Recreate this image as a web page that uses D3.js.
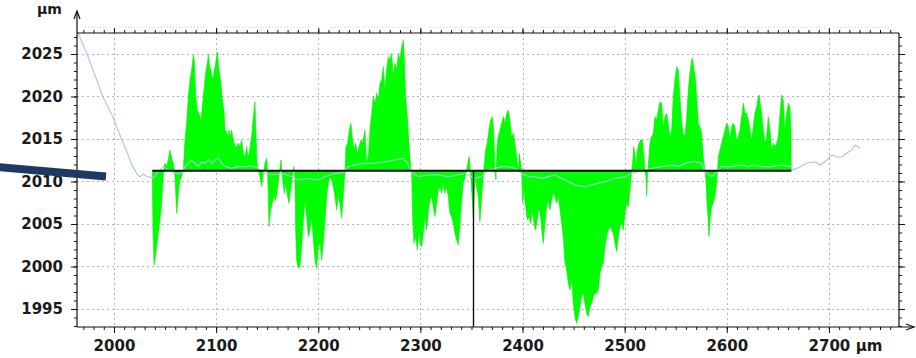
<!DOCTYPE html>
<html>
<head>
<meta charset="utf-8">
<script src="https://cdn.jsdelivr.net/npm/d3@7"></script>
<style>
  html, body { margin: 0; padding: 0; background: #fff; }
  svg { display: block; }
  text { font-family: "DejaVu Sans", Verdana, sans-serif; font-weight: bold; fill: #1a1a1a; }
</style>
</head>
<body>
<svg id="chart" width="916" height="358"></svg>
<script>
// Surface profile (position µm, height µm), filled against the reference level
const profile = [
  [2037.5,2011.25],[2038.2,2004.3],[2039.2,2000.18],[2040.1,2000.76],[2041.8,2002.33],[2043.4,2003.9],[2045.0,2005.47],[2046.7,2007.43],[2047.6,2009.39],[2048.6,2011.35],[2049.9,2012.14],[2051.6,2011.75],[2053.2,2012.53],[2054.8,2013.71],[2056.5,2012.73],[2058.1,2012.14],[2059.7,2010.57],[2061.4,2006.25],[2063.0,2008.61],[2064.6,2010.18],[2066.2,2010.57],[2067.9,2011.35],[2069.5,2014.88],[2071.1,2016.84],[2072.8,2019.98],[2074.4,2021.94],[2076.0,2023.12],[2077.7,2024.88],[2078.6,2024.29],[2080.0,2019.98],[2081.6,2018.41],[2083.2,2018.02],[2085.2,2017.24],[2086.5,2018.8],[2088.1,2020.76],[2089.7,2022.73],[2091.4,2023.9],[2092.4,2025.0],[2093.7,2023.51],[2095.0,2023.12],[2096.3,2021.94],[2097.9,2022.73],[2099.5,2023.9],[2101.2,2025.27],[2102.8,2023.12],[2104.8,2021.55],[2106.1,2019.59],[2107.7,2018.41],[2108.7,2016.06],[2110.3,2015.86],[2111.3,2015.27],[2112.6,2016.06],[2113.9,2015.27],[2115.2,2016.06],[2116.8,2014.88],[2118.5,2014.1],[2120.1,2014.1],[2121.7,2014.49],[2123.4,2014.1],[2125.0,2014.88],[2126.6,2013.31],[2128.3,2012.92],[2129.9,2014.1],[2131.5,2012.73],[2133.2,2014.1],[2134.8,2015.27],[2136.4,2017.63],[2138.0,2019.39],
  [2139.0,2016.06],[2140.0,2012.14],[2141.3,2011.35],[2142.9,2010.57],[2144.6,2009.39],[2146.2,2010.96],[2147.8,2012.14],[2149.5,2012.73],[2150.5,2010.96],[2151.8,2004.69],[2153.4,2006.65],[2155.0,2007.43],[2156.6,2008.22],[2158.3,2007.82],[2159.9,2009.0],[2161.5,2010.57],[2163.5,2012.53],[2164.8,2010.57],[2166.8,2008.61],[2168.1,2009.78],[2170.0,2008.22],[2171.3,2007.43],[2173.0,2009.0],[2174.6,2010.57],[2176.2,2011.75],[2177.2,2010.18],[2177.9,2004.29],[2178.8,2000.76],[2180.5,1999.78],[2182.1,1999.98],[2183.7,2002.33],[2185.4,2005.47],[2187.0,2007.82],[2188.6,2005.86],[2190.3,2003.51],[2191.9,2004.29],[2193.5,2005.86],[2195.2,2003.12],[2196.8,2000.76],[2198.4,1999.78],[2200.1,2002.33],[2201.7,2002.73],[2203.3,2000.76],[2204.9,2002.73],[2206.6,2005.47],[2208.2,2008.22],[2209.8,2009.78],[2211.5,2010.57],[2213.1,2010.18],[2214.7,2009.39],[2216.4,2008.22],[2218.0,2006.65],[2219.6,2008.22],[2221.3,2007.43],[2222.9,2005.67],[2224.5,2008.22],[2226.2,2011.25],[2227.1,2014.1],[2228.8,2014.49],[2230.4,2016.06],[2232.0,2016.84],[2233.3,2015.27],[2234.9,2013.71],[2236.6,2014.49],[2238.2,2013.31],[2239.9,2014.1],[2241.8,2014.88],[2243.5,2014.49],[2245.7,2016.06],
  [2247.4,2012.14],[2249.0,2012.92],[2250.6,2016.06],[2252.3,2018.02],[2253.9,2019.98],[2255.5,2019.2],[2257.2,2020.37],[2258.8,2019.59],[2260.4,2021.55],[2262.1,2021.94],[2263.7,2023.51],[2265.3,2020.76],[2266.9,2023.12],[2268.6,2024.69],[2270.2,2024.29],[2271.8,2025.08],[2273.5,2022.33],[2275.1,2023.9],[2276.7,2023.12],[2278.4,2025.08],[2280.0,2024.29],[2281.6,2025.86],[2283.3,2026.65],[2284.3,2024.29],[2285.6,2019.98],[2287.2,2017.63],[2288.8,2014.49],[2290.5,2011.75],[2291.4,2011.25],[2292.4,2005.86],[2293.7,2002.73],[2295.3,2003.51],[2297.0,2001.94],[2298.6,2004.29],[2299.6,2002.73],[2301.2,2002.33],[2302.9,2003.9],[2304.5,2005.86],[2306.1,2004.29],[2307.7,2006.25],[2309.4,2007.82],[2311.0,2008.22],[2312.6,2007.04],[2314.3,2005.86],[2315.9,2007.43],[2317.5,2009.0],[2319.2,2009.39],[2320.8,2008.61],[2322.4,2009.78],[2324.1,2008.61],[2325.7,2009.39],[2327.3,2008.22],[2328.9,2006.25],[2330.6,2005.86],[2332.2,2005.08],[2333.9,2003.9],[2335.5,2003.12],[2337.1,2002.53],[2338.8,2005.08],[2340.4,2007.82],[2342.0,2009.78],[2343.7,2010.57],[2345.3,2011.25],[2346.9,2012.53],[2347.9,2012.92],[2348.9,2011.35],[2350.2,2009.0],[2351.8,2005.86],
  [2353.4,2010.57],[2355.1,2009.39],[2356.7,2008.22],[2358.3,2005.27],[2360.0,2008.22],[2361.6,2010.57],[2362.6,2012.14],[2363.9,2013.71],[2365.5,2014.49],[2367.1,2016.06],[2368.8,2017.24],[2370.4,2017.63],[2371.7,2016.06],[2373.0,2011.35],[2374.0,2010.18],[2375.0,2014.1],[2376.3,2015.27],[2377.9,2016.06],[2379.5,2016.84],[2381.2,2017.63],[2382.8,2016.84],[2384.4,2018.02],[2386.1,2018.41],[2387.7,2017.24],[2389.3,2015.27],[2391.0,2015.67],[2392.6,2014.49],[2394.2,2012.92],[2395.9,2011.35],[2396.8,2013.31],[2398.2,2012.14],[2399.1,2011.25],[2400.1,2007.43],[2401.4,2009.0],[2403.0,2007.04],[2404.7,2005.47],[2406.3,2005.86],[2407.9,2005.08],[2409.6,2006.65],[2411.2,2005.08],[2412.8,2004.29],[2414.5,2005.47],[2416.1,2007.04],[2417.7,2005.86],[2419.4,2003.51],[2420.3,2002.73],[2422.0,2005.08],[2423.6,2007.04],[2425.2,2007.82],[2426.9,2006.65],[2428.5,2007.82],[2430.1,2008.61],[2431.8,2008.22],[2433.4,2007.43],[2435.0,2008.22],[2436.7,2006.65],[2438.3,2005.08],[2439.9,2003.51],[2441.6,2000.37],[2443.2,1999.59],[2444.8,1998.02],[2446.5,1997.24],[2448.1,1998.41],[2449.7,1995.67],[2451.3,1994.1],[2453.0,1993.31],[2454.6,1994.1],[2456.2,1995.27],[2457.9,1996.45],[2459.5,1996.84],
  [2461.1,1995.67],[2462.8,1994.49],[2464.4,1994.1],[2466.0,1995.27],[2467.7,1995.67],[2469.3,1996.45],[2470.9,1996.84],[2472.6,1996.84],[2474.2,1997.24],[2475.8,1999.2],[2477.4,1999.98],[2479.1,2000.37],[2480.7,2002.33],[2482.3,2003.51],[2484.0,2004.29],[2485.6,2004.69],[2487.2,2004.29],[2488.9,2003.9],[2490.5,2002.73],[2492.1,2001.75],[2493.8,2003.51],[2495.4,2004.69],[2497.0,2005.08],[2498.7,2004.29],[2500.3,2006.25],[2501.9,2007.43],[2503.6,2007.04],[2505.2,2009.0],[2506.8,2011.25],[2507.8,2012.14],[2508.8,2014.1],[2510.1,2013.31],[2511.1,2011.75],[2512.4,2013.71],[2514.0,2014.49],[2515.6,2014.88],[2517.3,2014.88],[2518.6,2013.31],[2519.9,2011.35],[2520.9,2010.57],[2521.5,2008.22],[2522.5,2010.96],[2523.8,2012.92],[2525.1,2014.88],[2526.4,2015.27],[2528.0,2015.67],[2529.7,2017.63],[2531.3,2017.24],[2532.9,2018.41],[2534.6,2019.39],[2536.2,2019.2],[2537.8,2016.45],[2539.5,2017.63],[2541.1,2018.02],[2542.7,2016.84],[2544.4,2015.27],[2546.0,2016.06],[2547.6,2019.98],[2549.2,2021.94],[2550.9,2023.51],[2552.5,2023.12],[2554.1,2019.98],[2555.8,2016.84],[2557.4,2015.67],[2559.0,2015.27],[2560.7,2017.63],[2562.3,2020.76],[2563.9,2022.73],[2565.6,2024.29],[2566.5,2024.49],[2567.8,2023.12],
  [2568.8,2022.73],[2570.5,2019.98],[2572.1,2016.84],[2573.7,2016.45],[2575.4,2015.67],[2577.0,2012.92],[2578.6,2011.25],[2579.6,2010.18],[2580.6,2007.43],[2581.6,2005.86],[2582.5,2003.51],[2583.8,2005.86],[2585.1,2007.04],[2586.8,2007.43],[2588.4,2008.22],[2590.0,2009.78],[2591.0,2011.25],[2591.7,2012.92],[2593.3,2013.71],[2594.9,2014.49],[2596.6,2015.27],[2598.2,2016.06],[2599.8,2016.84],[2601.5,2016.45],[2603.1,2014.88],[2604.7,2016.45],[2606.4,2016.84],[2608.0,2016.45],[2609.6,2014.88],[2611.3,2015.27],[2612.9,2016.06],[2614.5,2017.63],[2616.2,2019.2],[2617.8,2018.02],[2619.4,2018.02],[2621.0,2017.24],[2622.7,2016.06],[2624.3,2014.88],[2625.9,2016.45],[2627.6,2018.02],[2629.2,2018.8],[2630.8,2019.98],[2631.8,2020.18],[2633.1,2018.8],[2634.1,2018.02],[2635.7,2016.06],[2637.4,2014.49],[2639.0,2015.27],[2640.6,2017.63],[2642.3,2016.06],[2643.9,2013.71],[2645.5,2014.49],[2647.2,2014.1],[2648.8,2014.49],[2650.4,2015.27],[2652.1,2018.02],[2653.7,2020.18],[2655.3,2019.59],[2656.9,2016.06],[2658.6,2018.02],[2660.2,2019.2],[2661.8,2018.8],[2662.8,2016.06],[2663.1,2011.25]
];

// Smoothed (mean) profile over the full scan length
const meanProfile = [
  [1964.8,2027.47],[1973.6,2025.0],[1981.4,2022.5],[1989.2,2019.94],[1994.1,2018.76],[1999.0,2017.59],[2003.9,2016.06],[2007.8,2014.88],[2012.7,2013.47],[2017.6,2011.94],[2022.5,2010.88],[2025.5,2010.53],[2028.4,2010.88],[2031.3,2010.65],[2035.2,2010.53],
  [2038.5,2010.37],[2043.4,2011.16],[2048.3,2011.75],[2053.2,2011.35],[2059.7,2010.96],[2066.2,2010.96],[2069.5,2011.75],[2072.8,2012.14],[2076.0,2012.53],[2079.3,2012.14],[2082.6,2011.75],[2085.8,2012.33],[2089.1,2012.14],[2092.4,2012.53],[2095.6,2012.14],[2098.9,2012.53],[2102.2,2012.73],[2105.4,2012.14],[2108.7,2011.75],[2115.2,2011.55],[2121.7,2011.75],[2128.3,2011.75],[2134.8,2011.82],
  [2141.3,2011.55],[2147.8,2010.96],[2154.4,2010.76],[2164.2,2010.96],[2173.9,2010.57],[2180.5,2010.18],[2190.3,2010.37],[2200.1,2010.18],[2206.6,2010.57],[2216.4,2010.96],[2224.5,2011.04],[2229.4,2011.75],[2235.9,2011.94],
  [2245.7,2012.14],[2255.5,2012.14],[2265.3,2012.33],[2275.1,2012.53],[2281.6,2012.73],[2286.5,2012.33],[2291.4,2011.16],[2298.0,2010.57],[2307.7,2010.76],[2317.5,2010.76],[2327.3,2010.57],[2337.1,2010.76],[2343.7,2010.96],[2350.2,2010.57],
  [2353.4,2010.37],[2360.0,2010.57],[2366.5,2011.35],[2373.0,2011.55],[2379.5,2011.75],[2386.1,2011.75],[2392.6,2011.55],[2399.1,2010.96],[2405.7,2010.57],[2412.2,2010.57],[2418.7,2010.37],[2425.2,2010.57],[2431.8,2010.76],[2438.3,2010.37],[2444.8,2009.98],[2451.3,2009.59],[2461.1,2009.39],
  [2470.9,2009.71],[2480.7,2009.98],[2490.5,2010.37],[2500.3,2010.57],[2506.8,2010.96],[2513.3,2011.16],[2519.9,2011.35],[2526.4,2011.55],[2536.2,2011.75],[2546.0,2011.94],[2552.5,2011.75],[2559.0,2012.14],[2565.6,2012.33],
  [2568.8,2012.33],[2575.4,2012.14],[2578.6,2011.16],[2585.1,2010.57],[2591.0,2011.16],[2594.9,2011.75],[2604.7,2011.75],[2614.5,2011.94],[2621.0,2011.75],[2627.6,2011.94],[2634.1,2011.75],[2643.9,2011.75],[2653.7,2011.94],[2662.8,2011.75],
  [2664.8,2011.35],[2671.6,2011.71],[2678.5,2012.18],[2686.3,2012.29],[2691.2,2011.94],[2698.1,2012.53],[2703.0,2013.12],[2707.9,2012.88],[2712.8,2012.88],[2717.6,2013.35],[2722.5,2013.71],[2725.5,2014.29],[2730.4,2013.94]
];

const referenceLevel = 2011.25;   // µm
const cursorPosition = 2352;      // µm
const xMajorTicks = [2000, 2100, 2200, 2300, 2400, 2500, 2600, 2700];
const yMajorTicks = [1995, 2000, 2005, 2010, 2015, 2020, 2025];
const xMinorTicks = d3.range(1970, 2770, 10);
const yMinorTicks = d3.range(1993, 2028, 1);
const unit = "µm";

const svg = d3.select("#chart");
const L = 77, R = 899, T = 33, B = 327;

const x = d3.scaleLinear().domain([1963.8, 2768.6]).range([L, R]);
const y = d3.scaleLinear().domain([1992.88, 2027.47]).range([B, T]);

// dotted grid
const grid = svg.append("g").attr("stroke", "#b4b4b4").attr("stroke-width", 1).attr("stroke-dasharray", "2,3");
grid.selectAll("line.v").data(xMajorTicks).join("line")
  .attr("x1", d => Math.round(x(d)) + 0.5).attr("x2", d => Math.round(x(d)) + 0.5)
  .attr("y1", T).attr("y2", B);
grid.selectAll("line.h").data(yMajorTicks).join("line")
  .attr("y1", d => Math.round(y(d)) + 0.5).attr("y2", d => Math.round(y(d)) + 0.5)
  .attr("x1", L).attr("x2", R);

// faint dotted strip above the frame
const strip = svg.append("g").attr("stroke", "#d4d4d4").attr("stroke-width", 1).attr("stroke-dasharray", "1,2");
const stripBounds = [x.domain()[0]].concat(xMajorTicks, [x.domain()[1]]);
for (let i = 0; i < stripBounds.length - 1; i++) {
  const a = x(stripBounds[i]) + 8, b = x(stripBounds[i + 1]) - 8;
  if (b > a) strip.append("line").attr("x1", a).attr("x2", b).attr("y1", 27.5).attr("y2", 27.5);
}

// deviation fill
const clip = svg.append("clipPath").attr("id", "plotClip");
clip.append("rect").attr("x", L).attr("y", T).attr("width", R - L).attr("height", B - T);
const plot = svg.append("g").attr("clip-path", "url(#plotClip)");

plot.append("path")
  .datum(profile)
  .attr("fill", "#00ff00")
  .attr("stroke", "#00f000")
  .attr("stroke-width", 0.6)
  .attr("d", d3.area().x(d => x(d[0])).y0(y(referenceLevel)).y1(d => y(d[1])));

// mean profile
plot.append("path")
  .datum(meanProfile)
  .attr("fill", "none")
  .attr("stroke", "#a6c6e6")
  .attr("stroke-width", 1.1)
  .attr("d", d3.line().x(d => x(d[0])).y(d => y(d[1])));

// reference level line
plot.append("line")
  .attr("x1", x(profile[0][0])).attr("x2", x(profile[profile.length - 1][0]))
  .attr("y1", y(referenceLevel)).attr("y2", y(referenceLevel))
  .attr("stroke", "#111").attr("stroke-width", 2);

// cursor
plot.append("line")
  .attr("x1", x(cursorPosition)).attr("x2", x(cursorPosition))
  .attr("y1", y(referenceLevel)).attr("y2", B)
  .attr("stroke", "#111").attr("stroke-width", 1.4);

// axes
function styleAxis(g) {
  g.select(".domain").remove();
  g.selectAll(".tick line").attr("stroke", "#111").attr("stroke-width", 1);
  g.selectAll("text").style("font-size", "15px").style("font-family", "'DejaVu Sans', Verdana, sans-serif")
    .style("font-weight", "bold").attr("fill", "#1a1a1a");
}

svg.append("g").attr("transform", `translate(0,${B})`)
  .call(d3.axisBottom(x).tickValues(xMinorTicks).tickSize(3).tickFormat(""))
  .call(styleAxis);
const xAxis = svg.append("g").attr("transform", `translate(0,${B})`)
  .call(d3.axisBottom(x).tickValues(xMajorTicks).tickSize(6).tickPadding(7).tickFormat(d3.format("d")))
  .call(styleAxis);

svg.append("g").attr("transform", `translate(0,${T})`)
  .call(d3.axisTop(x).tickValues(xMinorTicks).tickSize(3).tickFormat(""))
  .call(styleAxis);
svg.append("g").attr("transform", `translate(0,${T})`)
  .call(d3.axisTop(x).tickValues(xMajorTicks).tickSize(5).tickFormat(""))
  .call(styleAxis);

svg.append("g").attr("transform", `translate(${L},0)`)
  .call(d3.axisLeft(y).tickValues(yMinorTicks).tickSize(3).tickFormat(""))
  .call(styleAxis);
svg.append("g").attr("transform", `translate(${L},0)`)
  .call(d3.axisLeft(y).tickValues(yMajorTicks).tickSize(6).tickPadding(8).tickFormat(d3.format("d")))
  .call(styleAxis);

svg.append("g").attr("transform", `translate(${R},0)`)
  .call(d3.axisRight(y).tickValues(yMinorTicks).tickSize(3).tickFormat(""))
  .call(styleAxis);
svg.append("g").attr("transform", `translate(${R},0)`)
  .call(d3.axisRight(y).tickValues(yMajorTicks).tickSize(6).tickFormat(""))
  .call(styleAxis);

// frame and axis arrows
const frame = svg.append("g").attr("stroke", "#111").attr("stroke-width", 1.2).attr("fill", "none");
frame.append("line").attr("x1", L).attr("x2", R).attr("y1", T).attr("y2", T);
frame.append("line").attr("x1", R).attr("x2", R).attr("y1", T).attr("y2", B);
frame.append("line").attr("x1", L).attr("x2", L).attr("y1", B).attr("y2", 11);
frame.append("line").attr("x1", L).attr("x2", 914).attr("y1", B).attr("y2", B);
frame.append("path").attr("d", `M${L - 3},19 L${L},11 L${L + 3},19`);
frame.append("path").attr("d", `M906,${B - 3} L914,${B} L906,${B + 3}`);

// unit labels
svg.append("text").attr("x", 37).attr("y", 14).style("font-size", "14px").text(unit);
const lastTick = xAxis.selectAll(".tick").filter(d => d === 2700).select("text");
const lastBox = lastTick.node().getBBox();
svg.append("text")
  .attr("x", x(2700) + lastBox.width / 2 + 6)
  .attr("y", B + 6 + 7)
  .attr("dy", "0.71em")
  .style("font-size", "15px")
  .text(unit);

// annotation pointer
svg.append("line")
  .attr("x1", -2).attr("y1", 167).attr("x2", 106).attr("y2", 176.5)
  .attr("stroke", "#1f3a62").attr("stroke-width", 8);
</script>
</body>
</html>
